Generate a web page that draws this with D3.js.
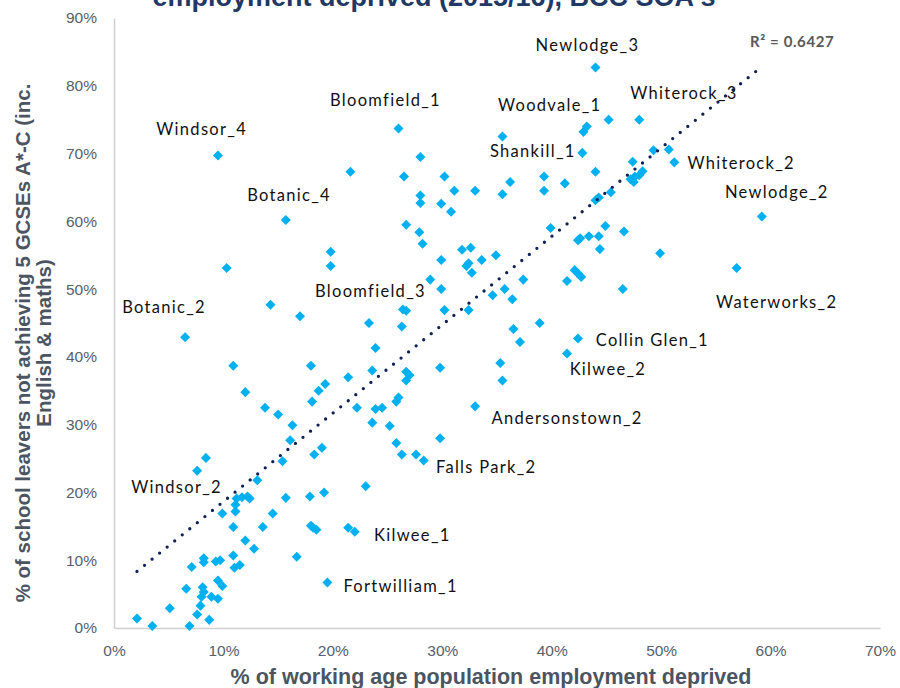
<!DOCTYPE html>
<html>
<head>
<meta charset="utf-8">
<script src="https://cdn.jsdelivr.net/npm/d3@7"></script>
<style>
  body { margin: 0; background: #ffffff; }
  svg { display: block; }
</style>
</head>
<body>
<svg id="chart" width="900" height="688"></svg>
<script>
// % of working age population employment deprived (x) per SOA
const xValues = [
  44.0, 45.2, 48.0, 43.2, 42.9, 26.0, 35.5, 42.8, 49.3, 50.7,
  9.5, 28.0, 47.4, 51.2, 44.0, 21.6, 26.5, 30.2, 39.3, 36.2,
  41.2, 48.3, 48.0, 47.6, 47.2, 47.5, 31.1, 33.0, 35.5, 39.3,
  28.0, 28.0, 29.9, 30.8, 45.4, 44.3, 44.0, 15.7, 59.2, 26.7,
  27.9, 28.2, 39.9, 44.9, 46.6, 43.4, 44.3, 42.6, 42.4, 44.4,
  49.9, 31.8, 32.6, 19.8, 34.9, 29.9, 33.6, 10.3, 19.8, 32.2,
  32.4, 32.7, 56.9, 42.1, 42.4, 42.7, 37.4, 41.4, 28.9, 29.9,
  46.5, 34.6, 35.7, 36.4, 14.3, 26.4, 26.7, 30.2, 32.4, 17.0,
  23.3, 26.3, 36.5, 38.9, 6.5, 37.1, 42.4, 23.9, 41.4, 35.3,
  10.9, 18.0, 29.8, 21.4, 23.6, 26.7, 27.0, 26.7, 35.5, 19.3,
  18.7, 18.1, 12.0, 26.0, 25.8, 13.8, 22.2, 23.9, 24.5, 33.0,
  15.0, 23.6, 25.2, 16.3, 16.1, 25.8, 29.8, 19.0, 18.3, 26.3,
  27.6, 28.3, 15.4, 8.4, 7.6, 13.1, 23.0, 19.2, 17.9, 15.7,
  11.2, 11.7, 12.2, 12.4, 11.1, 11.1, 9.9, 14.5, 10.9, 13.6,
  18.0, 18.2, 18.5, 21.4, 22.0, 12.0, 12.8, 10.9, 16.7, 8.2,
  8.2, 9.3, 9.7, 7.1, 11.0, 11.5, 19.5, 9.5, 9.9, 8.1,
  8.2, 6.6, 8.0, 8.9, 9.5, 7.9, 7.6, 8.7, 5.1, 2.1,
  3.5, 6.9
];

// % of school leavers not achieving 5 GCSEs A*-C (y) per SOA
const yValues = [
  82.7, 75.0, 75.0, 74.0, 73.2, 73.7, 72.5, 70.1, 70.5, 70.6,
  69.7, 69.5, 68.8, 68.7, 67.3, 67.3, 66.6, 66.6, 66.6, 65.8,
  65.6, 67.4, 66.8, 66.6, 66.2, 65.8, 64.5, 64.5, 64.0, 64.5,
  63.8, 62.7, 62.6, 61.4, 64.3, 63.5, 63.1, 60.2, 60.7, 59.5,
  58.4, 56.7, 59.0, 59.3, 58.5, 57.8, 57.8, 57.5, 57.2, 55.9,
  55.3, 55.8, 56.1, 55.5, 55.0, 54.3, 54.3, 53.1, 53.4, 53.4,
  53.8, 52.4, 53.1, 52.8, 52.3, 51.8, 51.4, 51.2, 51.4, 50.0,
  50.0, 49.1, 50.0, 48.5, 47.7, 47.0, 46.8, 46.9, 46.9, 46.0,
  45.0, 44.5, 44.1, 45.0, 42.9, 42.2, 42.7, 41.3, 40.5, 39.1,
  38.7, 38.7, 38.4, 37.0, 38.0, 37.8, 37.3, 36.5, 36.5, 36.0,
  35.0, 33.4, 34.8, 34.0, 33.4, 32.5, 32.5, 32.3, 32.5, 32.7,
  31.5, 30.3, 29.8, 29.9, 27.7, 27.3, 28.0, 26.6, 25.6, 25.6,
  25.6, 24.7, 24.6, 25.1, 23.2, 21.8, 20.9, 20.0, 19.4, 19.2,
  19.1, 19.3, 19.4, 19.1, 18.2, 17.2, 16.9, 16.9, 14.9, 14.9,
  15.1, 14.8, 14.5, 14.8, 14.2, 12.9, 11.7, 10.7, 10.5, 10.3,
  9.7, 9.8, 10.0, 9.0, 8.9, 9.3, 6.7, 7.0, 6.2, 6.0,
  5.3, 5.8, 4.6, 4.6, 4.3, 3.3, 2.0, 1.2, 2.9, 1.4,
  0.3, 0.3
];

// Named SOAs and the point each one belongs to
const labelNames = [
  "Newlodge_3", "Bloomfield_1", "Woodvale_1", "Whiterock_3", "Windsor_4",
  "Shankill_1", "Whiterock_2", "Botanic_4", "Newlodge_2", "Bloomfield_3",
  "Botanic_2", "Waterworks_2", "Collin Glen_1", "Kilwee_2", "Andersonstown_2",
  "Falls Park_2", "Windsor_2", "Kilwee_1", "Fortwilliam_1"
];
const labelPoint = [0, 5, 3, 2, 10, 7, 13, 37, 38, 80, 84, 62, 86, 88, 109, 121, 130, 144, 156];

const xTicks = [0, 10, 20, 30, 40, 50, 60, 70];
const yTicks = [0, 10, 20, 30, 40, 50, 60, 70, 80, 90];

// Linear trendline as shown in the chart
const trendSlope = 1.3044;
const trendIntercept = 5.61;
const trendR2 = "R² = 0.6427";

// Label placement relative to its point: [anchor, dx, dy]
const labelLayout = {
  "Newlodge_3": ["middle", -8, -22.5],
  "Bloomfield_1": ["middle", -13, -28.5],
  "Woodvale_1": ["middle", -37, -21.5],
  "Whiterock_3": ["middle", 44.7, -26.7],
  "Windsor_4": ["middle", -16.3, -26.4],
  "Shankill_1": ["end", -6.7, -2],
  "Whiterock_2": ["start", 13.2, 0.4],
  "Botanic_4": ["middle", 3.3, -24.3],
  "Newlodge_2": ["middle", 15, -24],
  "Bloomfield_3": ["middle", 1.5, -32],
  "Botanic_2": ["middle", -21, -29.7],
  "Waterworks_2": ["middle", 40, 34.4],
  "Collin Glen_1": ["start", 17.8, 2],
  "Kilwee_2": ["start", 2.6, 15.7],
  "Andersonstown_2": ["start", 16.5, 11.8],
  "Falls Park_2": ["start", 12.3, 6.6],
  "Windsor_2": ["end", -14.6, -11.6],
  "Kilwee_1": ["start", 19.3, 3.3],
  "Fortwilliam_1": ["start", 16, 4]
};

const plot = { left: 114, right: 880, top: 18, bottom: 628 };
const tickColor = "#56606d";
const titleColor = "#4b5562";
const pointColor = "#00b0f0";

const svg = d3.select("#chart");

const xScale = d3.scaleLinear().domain([0, 70]).range([plot.left, plot.right]);
const yScale = d3.scaleLinear().domain([0, 90]).range([plot.bottom, plot.top]);

// Chart title (mostly cropped off the top)
svg.append("text")
  .attr("x", 434)
  .attr("y", 6)
  .attr("text-anchor", "middle")
  .attr("font-family", "Liberation Sans, Arial, sans-serif")
  .attr("font-weight", "bold")
  .attr("font-size", "27px")
  .attr("fill", "#1f3864")
  .text("employment deprived (2015/16), BCC SOA's");

// Axes
const xAxis = d3.axisBottom(xScale)
  .tickValues(xTicks)
  .tickSize(0)
  .tickSizeOuter(0)
  .tickPadding(17)
  .tickFormat(d => d + "%");

const yAxis = d3.axisLeft(yScale)
  .tickValues(yTicks)
  .tickSize(0)
  .tickSizeOuter(0)
  .tickPadding(17)
  .tickFormat(d => d + "%");

const gx = svg.append("g")
  .attr("transform", `translate(0, ${ plot.bottom })`)
  .call(xAxis);

const gy = svg.append("g")
  .attr("transform", `translate(${ plot.left }, 0)`)
  .call(yAxis);

[gx, gy].forEach(g =>
{
  g.select(".domain").attr("stroke", "#d0d0d0").attr("stroke-width", 1.5);
  g.selectAll("text")
    .attr("font-family", "Liberation Sans, Arial, sans-serif")
    .attr("font-size", "15.5px")
    .attr("fill", tickColor);
});

// Axis titles
svg.append("text")
  .attr("x", 491)
  .attr("y", 684)
  .attr("text-anchor", "middle")
  .attr("font-family", "Liberation Sans, Arial, sans-serif")
  .attr("font-weight", "bold")
  .attr("font-size", "21.5px")
  .attr("fill", titleColor)
  .text("% of working age population employment deprived");

const yTitle = svg.append("text")
  .attr("transform", "translate(0, 343) rotate(-90)")
  .attr("text-anchor", "middle")
  .attr("font-family", "Liberation Sans, Arial, sans-serif")
  .attr("font-weight", "bold")
  .attr("font-size", "20.5px")
  .attr("fill", titleColor);

yTitle.append("tspan").attr("x", 0).attr("y", 30)
  .text("% of school leavers not achieving 5 GCSEs A*-C (inc.");
yTitle.append("tspan").attr("x", 0).attr("y", 51)
  .text("English & maths)");

// Points
const points = xValues.map((x, i) => ({ x: x, y: yValues[i] }));

svg.append("g")
  .selectAll("path")
  .data(points)
  .enter()
  .append("path")
  .attr("d", d3.symbol().type(d3.symbolDiamond2).size(64))
  .attr("transform", d => `translate(${ xScale(d.x) }, ${ yScale(d.y) })`)
  .attr("fill", pointColor);

// Trendline (dotted)
const [xMin, xMax] = d3.extent(xValues);
const trendData = [xMin, xMax].map(x => ({ x: x, y: trendIntercept + trendSlope * x }));

svg.append("path")
  .datum(trendData)
  .attr("d", d3.line().x(d => xScale(d.x)).y(d => yScale(d.y)))
  .attr("fill", "none")
  .attr("stroke", "#0f2157")
  .attr("stroke-width", 3.3)
  .attr("stroke-linecap", "round")
  .attr("stroke-dasharray", "0 9.7");

svg.append("text")
  .attr("x", 750)
  .attr("y", 47)
  .attr("font-family", "Lato, Carlito, sans-serif")
  .attr("font-weight", "bold")
  .attr("font-size", "15px")
  .attr("letter-spacing", "0.6px")
  .attr("fill", "#595959")
  .text(trendR2);

// Data labels
svg.append("g")
  .selectAll("text")
  .data(labelNames)
  .enter()
  .append("text")
  .attr("x", (d, i) => xScale(points[labelPoint[i]].x) + labelLayout[d][1])
  .attr("y", (d, i) => yScale(points[labelPoint[i]].y) + labelLayout[d][2])
  .attr("dy", "0.35em")
  .attr("text-anchor", d => labelLayout[d][0])
  .attr("font-family", "Lato, Carlito, sans-serif")
  .attr("font-size", "16.5px")
  .attr("letter-spacing", "1.3px")
  .attr("fill", "#111111")
  .text(d => d);
</script>
</body>
</html>
